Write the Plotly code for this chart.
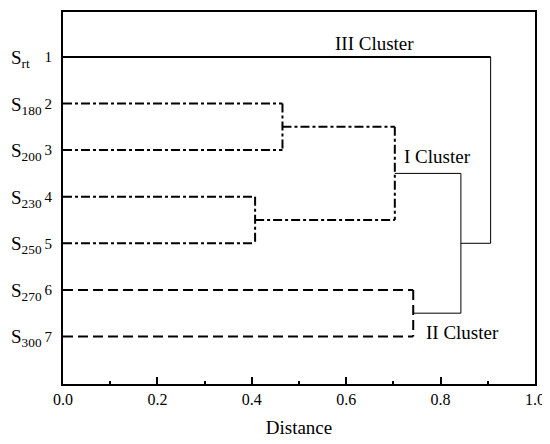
import plotly.graph_objects as go

# ---- data ----
sample_subs = ["rt", "180", "200", "230", "250", "270", "300"]
leaf_ids = ["1", "2", "3", "4", "5", "6", "7"]
leaf_style = ["solid", "dashdot", "dashdot", "dashdot", "dashdot", "dash", "dash"]

merge_names = ["A", "B", "C", "D", "E", "F"]
merge_left = ["2", "4", "A", "6", "C", "1"]
merge_right = ["3", "5", "B", "7", "D", "E"]
merge_dist = [0.465, 0.407, 0.703, 0.742, 0.843, 0.906]
merge_style = ["dashdot", "dashdot", "dashdot", "dash", "thin", "thin"]

cluster_labels = ["III Cluster", "I Cluster", "II Cluster"]
x_ticks = [0.0, 0.2, 0.4, 0.6, 0.8, 1.0]

# ---- build dendrogram geometry ----
ypos = {lid: float(lid) for lid in leaf_ids}
xpos = {lid: 0.0 for lid in leaf_ids}
style = {lid: s for lid, s in zip(leaf_ids, leaf_style)}
segments = {"solid": [], "dashdot": [], "dash": [], "thin": []}

for name, l, r, d, s in zip(merge_names, merge_left, merge_right, merge_dist, merge_style):
    for c in (l, r):
        seg_style = style[c] if c in leaf_ids else s
        segments[seg_style].append(([xpos[c], d], [ypos[c], ypos[c]]))
    segments[s].append(([d, d], [ypos[l], ypos[r]]))
    ypos[name] = (ypos[l] + ypos[r]) / 2
    xpos[name] = d
    style[name] = s

line_fmt = {
    "solid": dict(color="black", width=2),
    "dashdot": dict(color="black", width=2, dash="9px,3px,3px,3px"),
    "dash": dict(color="black", width=2, dash="10px,5px"),
    "thin": dict(color="black", width=1),
}

fig = go.Figure()
for key, segs in segments.items():
    xs, ys = [], []
    for sx, sy in segs:
        xs += sx + [None]
        ys += sy + [None]
    fig.add_trace(go.Scatter(x=xs, y=ys, mode="lines", line=line_fmt[key],
                             showlegend=False, hoverinfo="skip"))

FONT = "Liberation Serif"

annotations = []
# sample name labels left of the axis
for lid, sub in zip(leaf_ids, sample_subs):
    annotations.append(dict(
        x=-0.114, xref="paper", y=float(lid), yref="y",
        text=f"S<sub>{sub}</sub>",
        showarrow=False, xanchor="left", yanchor="middle", yshift=-2,
        font=dict(family=FONT, size=19, color="black")))

# cluster labels
cl_pos = [(0.572, 0.713), (0.719, 3.13), (0.764, 6.905)]
for txt, (cx, cy) in zip(cluster_labels, cl_pos):
    annotations.append(dict(
        x=cx, y=cy, xref="x", yref="y", text=txt, showarrow=False,
        xanchor="left", yanchor="middle",
        font=dict(family=FONT, size=19, color="black")))

# the page body keeps its default 8px margin, so the figure is 8px in from the window edge
fig.update_layout(
    width=542, height=436,
    margin=dict(l=55, r=15, t=4, b=60, autoexpand=False),
    paper_bgcolor="white", plot_bgcolor="white",
    font=dict(family=FONT, color="black"),
    annotations=annotations,
    xaxis=dict(
        range=[0, 1], tickvals=x_ticks, tickformat=".1f", automargin=False,
        ticklabeloverflow="allow",
        ticks="inside", ticklen=7, tickwidth=1.5, tickcolor="black",
        minor=dict(dtick=0.1, ticks="inside", ticklen=3, tickwidth=1.5, tickcolor="black"),
        showline=True, linewidth=2, linecolor="black", mirror=True,
        showgrid=False, zeroline=False,
        tickfont=dict(family=FONT, size=16, color="black"),
        title=dict(text="Distance", font=dict(family=FONT, size=19, color="black"), standoff=13),
    ),
    yaxis=dict(
        range=[8.02, 0.036], tickvals=[float(v) for v in leaf_ids], ticktext=leaf_ids,
        automargin=False,
        ticks="outside", ticklen=6, tickcolor="rgba(0,0,0,0)",
        showline=True, linewidth=2, linecolor="black", mirror=True,
        showgrid=False, zeroline=False,
        tickfont=dict(family=FONT, size=15, color="black"),
    ),
)

fig.write_html(
    "out.html",
    config={"displayModeBar": False, "responsive": False},
    post_script="document.documentElement.style.overflow='hidden';",
)
